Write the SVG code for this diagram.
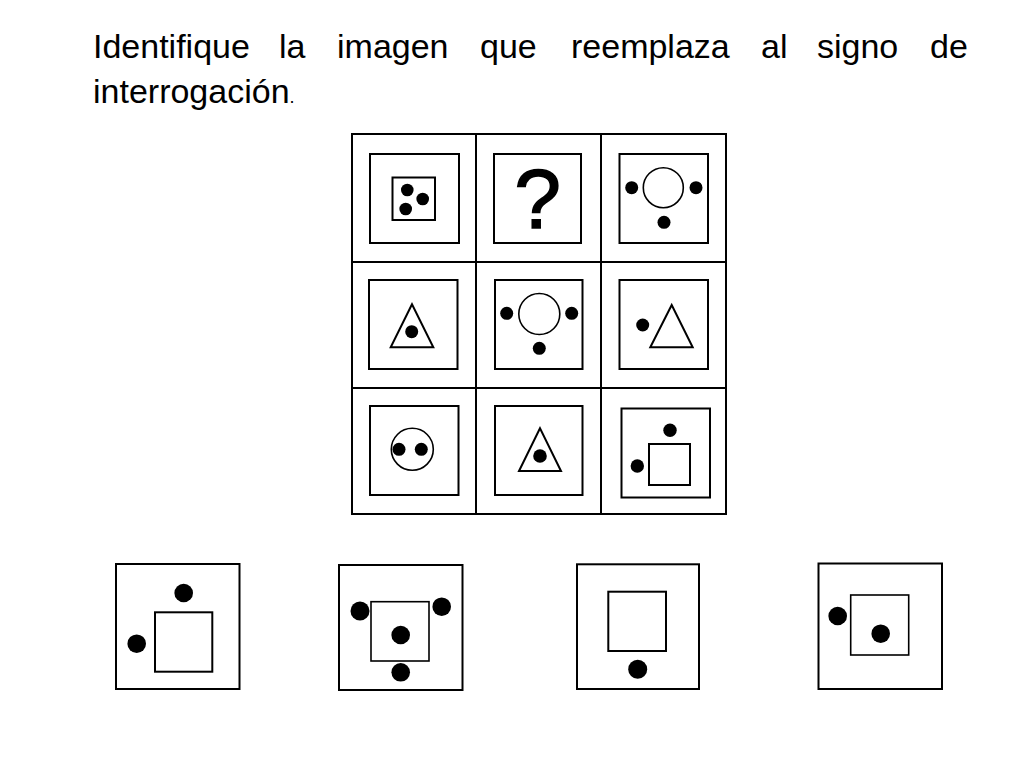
<svg xmlns="http://www.w3.org/2000/svg" width="1024" height="768" viewBox="0 0 1024 768">
<style>
.t{font-family:"Liberation Sans",Arial,sans-serif;font-size:34px;fill:#000}
.b{fill:none;stroke:#000;stroke-width:2}
.s{fill:none;stroke:#000;stroke-width:1.6}
.d{fill:#000}
</style>
<rect width="1024" height="768" fill="#fff"/>
<text class="t" y="58"><tspan x="93">Identifique</tspan><tspan x="279">la</tspan><tspan x="337">imagen</tspan><tspan x="480">que</tspan><tspan x="571">reemplaza</tspan><tspan x="761">al</tspan><tspan x="817">signo</tspan><tspan x="930">de</tspan></text>
<text class="t" x="93" y="103">interrogación<tspan style="font-size:18px">.</tspan></text>
<g id="grid">
<rect class="b" x="352" y="134" width="374" height="380"/>
<line class="b" x1="476" y1="134" x2="476" y2="514"/>
<line class="b" x1="601" y1="134" x2="601" y2="514"/>
<line class="b" x1="352" y1="262" x2="726" y2="262"/>
<line class="b" x1="352" y1="388" x2="726" y2="388"/>
</g>
<g id="c11">
<rect class="b" x="370" y="154" width="89" height="89"/>
<rect class="b" x="392.5" y="177.5" width="42.5" height="42.5"/>
<circle class="d" cx="407.3" cy="190" r="6.3"/>
<circle class="d" cx="422.7" cy="199" r="6.3"/>
<circle class="d" cx="405.7" cy="209" r="6.3"/>
</g>
<g id="c12">
<rect class="b" x="494" y="154" width="87" height="89"/>
<text x="537.5" y="228" text-anchor="middle" style="font-family:'Liberation Sans',Arial,sans-serif;font-size:84px;stroke:#000;stroke-width:1.5">?</text>
</g>
<g id="c13">
<rect class="b" x="619.5" y="154" width="88.5" height="89"/>
<circle class="s" cx="663.3" cy="187.7" r="20"/>
<circle class="d" cx="631.7" cy="187.7" r="6.5"/>
<circle class="d" cx="696" cy="187.7" r="6.5"/>
<circle class="d" cx="664" cy="222.3" r="6.5"/>
</g>
<g id="c21">
<rect class="b" x="369" y="280" width="88.5" height="89"/>
<polygon class="b" points="412,304.3 390.7,347.3 433.3,347.3"/>
<circle class="d" cx="411.7" cy="331.7" r="6.5"/>
</g>
<g id="c22">
<rect class="b" x="495" y="280" width="87.5" height="89"/>
<circle class="s" cx="539.3" cy="314" r="20.5"/>
<circle class="d" cx="506.7" cy="313.3" r="6.5"/>
<circle class="d" cx="571.7" cy="313.3" r="6.5"/>
<circle class="d" cx="539.3" cy="348.3" r="6.5"/>
</g>
<g id="c23">
<rect class="b" x="619.5" y="280" width="88.5" height="89"/>
<polygon class="b" points="671.7,305 650.3,347.3 692.7,347.3"/>
<circle class="d" cx="642.7" cy="325" r="6.5"/>
</g>
<g id="c31">
<rect class="b" x="370" y="406" width="88.5" height="89"/>
<circle class="s" cx="412.3" cy="449.3" r="21"/>
<circle class="d" cx="399" cy="449.3" r="6.5"/>
<circle class="d" cx="421.3" cy="449.3" r="6.5"/>
</g>
<g id="c32">
<rect class="b" x="495" y="406" width="87.5" height="89"/>
<polygon class="b" points="540,428.3 519,471 561,471"/>
<circle class="d" cx="540" cy="456" r="6.8"/>
</g>
<g id="c33">
<rect class="b" x="621.5" y="408.5" width="88.5" height="89"/>
<rect class="b" x="649" y="444" width="41" height="41"/>
<circle class="d" cx="670" cy="430.3" r="6.7"/>
<circle class="d" cx="637.3" cy="466" r="6.7"/>
</g>
<g id="optA">
<rect class="b" x="116" y="564" width="123.5" height="125"/>
<rect class="b" x="155" y="612.3" width="57.3" height="59.4"/>
<circle class="d" cx="183.7" cy="593" r="9.3"/>
<circle class="d" cx="136.7" cy="643.7" r="9.3"/>
</g>
<g id="optB">
<rect class="b" x="339" y="565" width="123.5" height="125"/>
<rect class="s" x="371" y="601.7" width="58" height="59.3"/>
<circle class="d" cx="360" cy="611" r="9.5"/>
<circle class="d" cx="441.7" cy="606.7" r="9.3"/>
<circle class="d" cx="400.7" cy="635" r="9.3"/>
<circle class="d" cx="400.7" cy="672.3" r="9.3"/>
</g>
<g id="optC">
<rect class="b" x="577" y="564.3" width="122" height="124.7"/>
<rect class="b" x="608.3" y="591.7" width="57.7" height="59.3"/>
<circle class="d" cx="637.7" cy="669.3" r="9.5"/>
</g>
<g id="optD">
<rect class="b" x="818.5" y="563.5" width="123.5" height="125.5"/>
<rect class="s" x="850.7" y="595" width="58" height="60"/>
<circle class="d" cx="837.7" cy="616" r="9.3"/>
<circle class="d" cx="880.7" cy="633.7" r="9.3"/>
</g>
</svg>
